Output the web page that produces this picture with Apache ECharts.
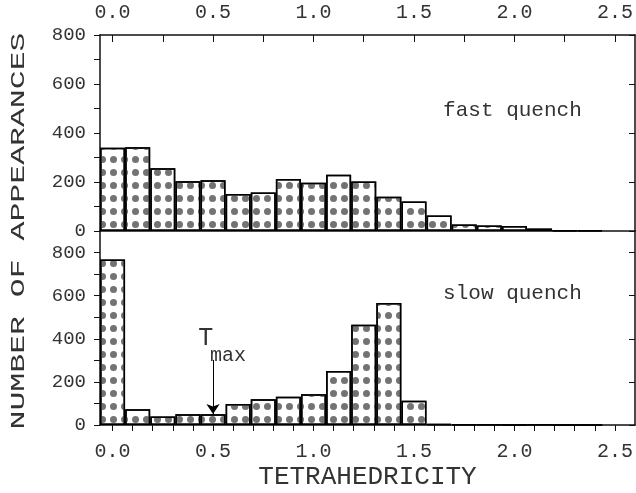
<!DOCTYPE html>
<html><head><meta charset="utf-8">
<script src="https://cdn.jsdelivr.net/npm/echarts@6/dist/echarts.min.js"></script>
<style>html,body{margin:0;background:#fff}#c{width:636px;height:493px}</style>
</head><body><div id="c"></div>
<script>
// bin centres (tetrahedricity), bin width 0.125
const binCenters = [0, 0.125, 0.25, 0.375, 0.5, 0.625, 0.75, 0.875, 1.0, 1.125, 1.25, 1.375, 1.5, 1.625, 1.75, 1.875, 2.0, 2.125, 2.25, 2.375];
const fastQuench = [340, 342, 256, 203, 207, 151, 157, 212, 197, 230, 202, 140, 120, 63, 27, 22, 20, 10, 3, 3];
const slowQuench = [768, 73, 39, 50, 50, 98, 120, 131, 143, 251, 465, 566, 112, 5, 2, 2, 0, 2, 0, 0];
const xLabelValues = [0, 0.5, 1.0, 1.5, 2.0, 2.5];
const topTickValues = [0, 0.25, 0.5, 0.75, 1.0, 1.25, 1.5, 1.75, 2.0, 2.25, 2.5];
const bottomTickValues = [0, 0.1, 0.2, 0.3, 0.4, 0.5, 0.6, 0.7, 0.8, 0.9, 1.0, 1.1, 1.2, 1.3, 1.4, 1.5, 1.6, 1.7, 1.8, 1.9, 2.0, 2.1, 2.2, 2.3, 2.4, 2.5];
const yLabelValues = [0, 200, 400, 600, 800];
const tmaxArrow = [[0.5, 302], [0.5, 51]];

const FONT = 'Liberation Mono';
const txt = '#333';
const line = {show: true, onZero: false, lineStyle: {color: '#111', width: 1.5}};
const decal = {symbol: 'circle', symbolSize: 1, color: '#737373', dashArrayX: [7, 4], dashArrayY: [7, 6]};
const barStyle = {color: '#fff', borderColor: '#000', borderWidth: 1.5, decal: decal};
const xMin = -0.0625, xMax = 2.6;
const yFmt = v => (yLabelValues.indexOf(v) >= 0 ? String(v) : '');

const chart = echarts.init(document.getElementById('c'), null, {renderer: 'canvas'});
chart.setOption({
  animation: false,
  backgroundColor: '#fff',
  grid: [
    {left: 100, right: 1, top: 35, height: 196},
    {left: 100, right: 1, top: 231, height: 194}
  ],
  xAxis: [
    {gridIndex: 0, type: 'value', position: 'top', min: xMin, max: xMax,
      axisLine: line, splitLine: {show: false},
      axisTick: {show: true, inside: true, length: 7, customValues: topTickValues, lineStyle: {color: '#111'}},
      axisLabel: {customValues: xLabelValues, formatter: v => v.toFixed(1), margin: 12, fontFamily: FONT, fontSize: 20, color: txt}},
    {gridIndex: 0, type: 'value', position: 'bottom', min: xMin, max: xMax,
      axisLine: line, splitLine: {show: false}, axisTick: {show: false}, axisLabel: {show: false}},
    {gridIndex: 1, type: 'value', position: 'bottom', min: xMin, max: xMax,
      axisLine: line, splitLine: {show: false},
      axisTick: {show: true, inside: false, length: 6, customValues: bottomTickValues, lineStyle: {color: '#111'}},
      axisLabel: {customValues: xLabelValues, formatter: v => v.toFixed(1), margin: 17, fontFamily: FONT, fontSize: 20, color: txt},
      name: 'TETRAHEDRICITY', nameLocation: 'middle', nameGap: 39,
      nameTextStyle: {fontFamily: FONT, fontSize: 26, color: txt}}
  ],
  yAxis: [
    {gridIndex: 0, type: 'value', position: 'left', min: 0, max: 800, interval: 100,
      axisLine: line, splitLine: {show: false},
      axisTick: {show: true, inside: false, length: 6, lineStyle: {color: '#111'}},
      axisLabel: {formatter: yFmt, margin: 14, fontFamily: FONT, fontSize: 19, color: txt}},
    {gridIndex: 0, type: 'value', position: 'right', min: 0, max: 800, interval: 200,
      axisLine: line, splitLine: {show: false},
      axisTick: {show: true, inside: true, length: 6, lineStyle: {color: '#111'}}, axisLabel: {show: false}},
    {gridIndex: 1, type: 'value', position: 'left', min: 0, max: 900, interval: 100,
      axisLine: line, splitLine: {show: false},
      axisTick: {show: true, inside: false, length: 6, lineStyle: {color: '#111'}},
      axisLabel: {formatter: yFmt, margin: 14, fontFamily: FONT, fontSize: 19, color: txt}},
    {gridIndex: 1, type: 'value', position: 'right', min: 0, max: 900, interval: 200,
      axisLine: line, splitLine: {show: false},
      axisTick: {show: true, inside: true, length: 6, lineStyle: {color: '#111'}}, axisLabel: {show: false}}
  ],
  graphic: [
    {type: 'text', x: 18, y: 231, rotation: Math.PI / 2, scaleX: 1.5, scaleY: 1,
      style: {text: 'NUMBER OF APPEARANCES', fontFamily: FONT, fontSize: 21, fill: txt,
        align: 'center', verticalAlign: 'middle', textAlign: 'center', textVerticalAlign: 'middle'}}
  ],
  series: [
    {type: 'bar', xAxisIndex: 0, yAxisIndex: 0, barWidth: 25,
      data: binCenters.map((x, i) => [x, fastQuench[i]]), itemStyle: barStyle,
      markPoint: {symbol: 'circle', symbolSize: 1, itemStyle: {color: 'rgba(0,0,0,0)'}, silent: true,
        data: [{coord: [1.99, 494], value: 'fast quench',
          label: {show: true, position: 'inside', formatter: 'fast quench', fontFamily: FONT, fontSize: 21, color: txt}}]}},
    {type: 'bar', xAxisIndex: 2, yAxisIndex: 2, barWidth: 25,
      data: binCenters.map((x, i) => [x, slowQuench[i]]), itemStyle: barStyle,
      markLine: {silent: true, symbol: ['none', 'arrow'], symbolSize: 10, animation: false,
        lineStyle: {color: '#000', width: 1, type: 'solid'}, label: {show: false},
        data: [[{coord: tmaxArrow[0]}, {coord: tmaxArrow[1]}]]},
      markPoint: {symbol: 'circle', symbolSize: 1, itemStyle: {color: 'rgba(0,0,0,0)'}, silent: true,
        data: [
          {coord: [1.99, 612], value: 'slow quench',
            label: {show: true, position: 'inside', formatter: 'slow quench', fontFamily: FONT, fontSize: 21, color: txt}},
          {coord: [0.464, 404], value: 'T',
            label: {show: true, position: 'inside', formatter: 'T', fontFamily: FONT, fontSize: 25, color: txt}},
          {coord: [0.574, 320], value: 'max',
            label: {show: true, position: 'inside', formatter: 'max', fontFamily: FONT, fontSize: 20, color: txt}}
        ]}}
  ]
});
</script>
</body></html>
